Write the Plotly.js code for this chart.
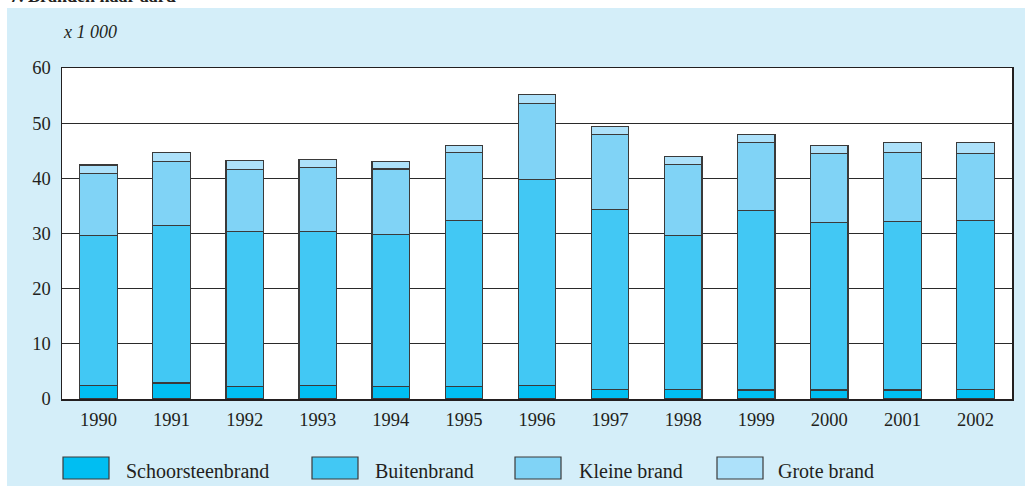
<!DOCTYPE html>
<html>
<head>
<meta charset="utf-8">
<script src="https://cdn.plot.ly/plotly-3.0.1.min.js"></script>
<style>html,body{margin:0;padding:0;background:#fff;}#chart{width:1025px;height:486px;}</style>
</head>
<body>
<div id="chart"></div>
<script>
// ---- data ----
var years = ['1990','1991','1992','1993','1994','1995','1996','1997','1998','1999','2000','2001','2002'];
var seriesNames = ['Schoorsteenbrand','Buitenbrand','Kleine brand','Grote brand'];
var schoorsteenbrand = [2.5, 2.9, 2.25, 2.4, 2.2, 2.2, 2.5, 1.7, 1.7, 1.65, 1.65, 1.65, 1.7];
var buitenbrand = [27.2, 28.6, 28.15, 27.9, 27.6, 30.2, 37.3, 32.7, 27.9, 32.45, 30.35, 30.55, 30.7];
var kleineBrand = [11.2, 11.6, 11.2, 11.7, 11.9, 12.3, 13.7, 13.6, 12.9, 12.4, 12.5, 12.5, 12.1];
var groteBrand = [1.5, 1.6, 1.7, 1.4, 1.3, 1.3, 1.7, 1.4, 1.5, 1.5, 1.5, 1.8, 2.0];
var yTicks = [0, 10, 20, 30, 40, 50, 60];
var unitLabel = 'x 1 000';
var chartTitle = '7. Branden naar aard';

// ---- styling ----
var colors = ['#00BEF2', '#42C8F4', '#80D3F6', '#ADE1FA'];
var FONT = 'Liberation Serif, Times New Roman, serif';
var W = 1025, H = 486;
var M = {l: 62, r: 13, t: 68, b: 87};
var PW = W - M.l - M.r, PH = H - M.t - M.b;
function px(x) { return (x - M.l) / PW; }
function py(y) { return (H - M.b - y) / PH; }

var allSeries = [schoorsteenbrand, buitenbrand, kleineBrand, groteBrand];
var traces = allSeries.map(function (vals, i) {
  return {
    type: 'bar', x: years, y: vals, name: seriesNames[i],
    marker: {color: colors[i], line: {color: '#3a3a3a', width: 1.2}},
    showlegend: false, hoverinfo: 'x+y+name'
  };
});

var shapes = [
  // white margins around the light-blue panel
  {type: 'rect', xref: 'paper', yref: 'paper', x0: px(-5), x1: px(W + 5), y0: py(8), y1: py(-5), fillcolor: '#fff', line: {width: 0}, layer: 'above'},
  {type: 'rect', xref: 'paper', yref: 'paper', x0: px(-5), x1: px(7), y0: py(H + 5), y1: py(-5), fillcolor: '#fff', line: {width: 0}, layer: 'above'}
];
var annotations = [
  {xref: 'paper', yref: 'paper', x: px(8), y: py(8), xanchor: 'left', yanchor: 'bottom', showarrow: false,
   text: '<b>' + chartTitle + '</b>', font: {family: FONT, size: 18, color: '#231f20'}},
  {xref: 'paper', yref: 'paper', x: px(61), y: py(32), xanchor: 'left', yanchor: 'middle', showarrow: false,
   text: '<i>' + unitLabel + '</i>', font: {family: FONT, size: 18, color: '#231f20'}}
];
// custom legend (large swatches)
var legBoxX = [63, 312, 515, 717];
var legTextX = [124, 373, 577, 776];
seriesNames.forEach(function (n, i) {
  shapes.push({type: 'rect', xref: 'paper', yref: 'paper', x0: px(legBoxX[i]), x1: px(legBoxX[i] + 46),
    y0: py(479), y1: py(457), fillcolor: colors[i], line: {color: '#3a3a3a', width: 1.2}});
  annotations.push({xref: 'paper', yref: 'paper', x: px(legTextX[i]), y: py(471), xanchor: 'left', yanchor: 'middle',
    showarrow: false, text: n, font: {family: FONT, size: 20, color: '#231f20'}});
});

var layout = {
  width: W, height: H,
  margin: M,
  paper_bgcolor: '#D4EEF9',
  plot_bgcolor: '#ffffff',
  barmode: 'stack',
  bargap: 0.486,
  showlegend: false,
  font: {family: FONT, size: 18, color: '#231f20'},
  xaxis: {
    type: 'category', showline: true, mirror: true, linecolor: '#231f20', linewidth: 1.5,
    ticks: '', showgrid: false, ticklabelstandoff: 3,
    tickfont: {family: FONT, size: 18.5, color: '#231f20'}
  },
  yaxis: {
    range: [0, 60], tickvals: yTicks, showline: true, mirror: true, linecolor: '#231f20', linewidth: 1.5,
    showgrid: true, gridcolor: '#2a2a2a', gridwidth: 1, zeroline: false, ticks: '',
    ticklabelstandoff: 6,
    tickfont: {family: FONT, size: 18.5, color: '#231f20'}
  },
  shapes: shapes,
  annotations: annotations
};

Plotly.newPlot('chart', traces, layout, {displayModeBar: false, staticPlot: true});
</script>
</body>
</html>
